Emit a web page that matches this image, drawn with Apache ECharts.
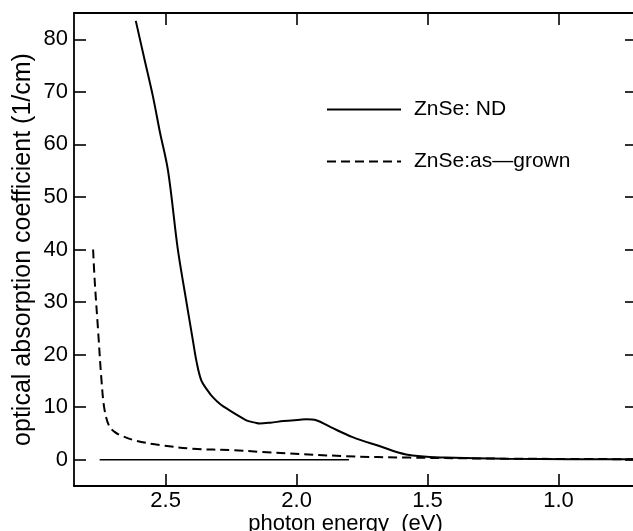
<!DOCTYPE html>
<html><head><meta charset="utf-8">
<script src="https://cdn.jsdelivr.net/npm/echarts@6/dist/echarts.min.js"></script>
<style>html,body{margin:0;padding:0;background:#fff}#c{width:633px;height:531px}</style>
</head><body><div id="c"></div>
<script>
// Tick labels
const xTicks = [2.5, 2.0, 1.5, 1.0];
const yTicks = [0, 10, 20, 30, 40, 50, 60, 70, 80];

// ZnSe: ND (solid)
const ndEnergy = [2.614, 2.58, 2.548, 2.523, 2.491, 2.454, 2.428, 2.396, 2.383, 2.364, 2.34, 2.320, 2.29, 2.256, 2.22, 2.192, 2.154, 2.141, 2.10, 2.05, 1.989, 1.963, 1.925, 1.87, 1.786, 1.684, 1.582, 1.43, 1.2, 0.95, 0.70];
const ndValue  = [83.5, 76.0, 69.0, 62.6, 55.0, 40.2, 32.2, 22.7, 18.9, 15.1, 13.2, 11.9, 10.5, 9.4, 8.3, 7.5, 7.0, 6.9, 7.05, 7.35, 7.6, 7.7, 7.5, 6.2, 4.3, 2.6, 1.0, 0.4, 0.2, 0.1, 0.1];

// ZnSe: as-grown (dashed)
const agEnergy = [2.777, 2.771, 2.758, 2.745, 2.733, 2.714, 2.695, 2.675, 2.612, 2.523, 2.396, 2.237, 2.141, 1.811, 1.570, 1.2, 0.70];
const agValue  = [40.0, 34.1, 24.6, 15.1, 9.4, 6.2, 5.3, 4.7, 3.6, 2.8, 2.1, 1.8, 1.5, 0.67, 0.4, 0.2, 0.1];

// zero baseline
const baseEnergy = [2.752, 1.80];
const baseValue  = [0, 0];

const zip = (a, b) => a.map((v, i) => [v, b[i]]);
const FONT = 'Liberation Sans';

const chart = echarts.init(document.getElementById('c'), null, {renderer: 'canvas'});
const axisLine = {show: true, onZero: false, lineStyle: {color: '#000', width: 1.8}};
const tick = (vals) => ({show: true, inside: true, length: 12, customValues: vals, lineStyle: {color: '#000', width: 1.6}});

chart.setOption({
  animation: false,
  backgroundColor: '#fff',
  grid: {left: 74, right: -4, top: 13, bottom: 45, containLabel: false, outerBoundsMode: 'none'},
  legend: {
    orient: 'vertical', left: 326, top: 99, padding: 0,
    itemWidth: 74, itemHeight: 16, itemGap: 31,
    itemStyle: {opacity: 0},
    textStyle: {fontFamily: FONT, fontSize: 21, color: '#000', padding: [0, 0, 0, 8]},
    data: ['ZnSe: ND', 'ZnSe:as—grown']
  },
  xAxis: [{
    type: 'value', min: 0.70, max: 2.85, inverse: true, position: 'bottom',
    name: 'photon energy  (eV)', nameLocation: 'middle', nameGap: 27, nameMoveOverlap: false,
    nameTextStyle: {fontFamily: FONT, fontSize: 22, color: '#000', padding: [0, 20, 0, 0]},
    axisLine: axisLine, axisTick: tick(xTicks), splitLine: {show: false},
    axisLabel: {customValues: xTicks, fontFamily: FONT, fontSize: 22, color: '#000', margin: 4,
      formatter: v => v.toFixed(1)}
  }, {
    type: 'value', min: 0.70, max: 2.85, inverse: true, position: 'top',
    axisLine: axisLine, axisTick: tick(xTicks), splitLine: {show: false},
    axisLabel: {show: false}
  }],
  yAxis: [{
    type: 'value', min: -5, max: 85, position: 'left',
    name: 'optical absorption coefficient (1/cm)', nameLocation: 'middle', nameGap: 38, nameRotate: 90,
    nameMoveOverlap: false,
    nameTextStyle: {fontFamily: FONT, fontSize: 25, color: '#000'},
    axisLine: axisLine, axisTick: tick(yTicks), splitLine: {show: false},
    axisLabel: {customValues: yTicks, fontFamily: FONT, fontSize: 22, color: '#000', margin: 6}
  }, {
    type: 'value', min: -5, max: 85, position: 'right',
    axisLine: axisLine, axisTick: tick(yTicks), splitLine: {show: false},
    axisLabel: {show: false}
  }],
  series: [{
    name: 'ZnSe: ND', type: 'line', data: zip(ndEnergy, ndValue),
    symbol: 'none', smooth: 0.35,
    lineStyle: {color: '#000', width: 2}, itemStyle: {color: '#000'}
  }, {
    name: 'ZnSe:as—grown', type: 'line', data: zip(agEnergy, agValue),
    symbol: 'none', smooth: 0.35,
    lineStyle: {color: '#000', width: 2, type: [9, 5]}, itemStyle: {color: '#000'}
  }, {
    name: 'baseline', type: 'line', data: zip(baseEnergy, baseValue),
    symbol: 'none', lineStyle: {color: '#000', width: 1.6}, silent: true
  }]
});
</script>
</body></html>
